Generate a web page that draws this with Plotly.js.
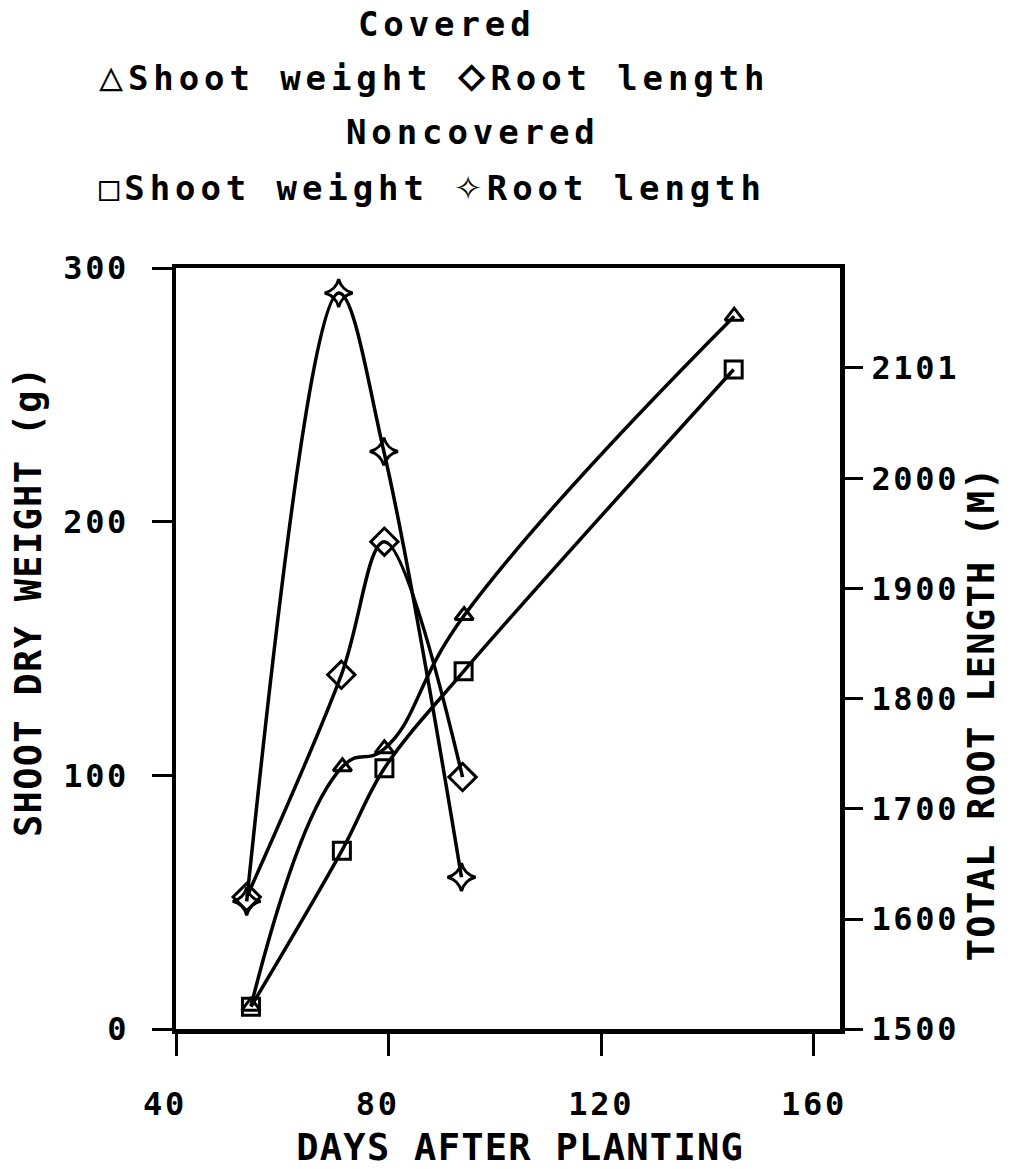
<!DOCTYPE html>
<html>
<head>
<meta charset="utf-8">
<script src="https://cdn.plot.ly/plotly-3.0.1.min.js"></script>
<style>
  html, body { margin: 0; padding: 0; background: #fff; }
  #chart { width: 1021px; height: 1169px; }
  .xtick text, .ytick text, .y2tick text { letter-spacing: 2.7px; }
  .annotation-text { letter-spacing: 4.9px; }
  g.annotation[data-index="4"] .annotation-text,
  g.annotation[data-index="5"] .annotation-text,
  g.annotation[data-index="6"] .annotation-text { letter-spacing: 1.3px; }
</style>
</head>
<body>
<div id="chart"></div>
<script>
// ---- data ----
const covShootDays = [54.1, 71.3, 79.2, 94.2, 145.0];
const covShootWeight = [9, 103.4, 110.5, 163, 281];

const nonShootDays = [54.1, 71.2, 79.2, 94.1, 144.9];
const nonShootWeight = [8.8, 70.3, 102.8, 141, 260];

const covRootDays = [53.3, 71.1, 79.2, 93.9];
const covRootLength = [1620, 1822, 1943, 1729];

const nonRootDays = [53.3, 70.6, 79.1, 93.7];
const nonRootLength = [1616, 2169, 2025, 1638];

const xTickVals = [40, 80, 120, 160];
const xTickText = ["40\u00a0", "80\u00a0", "120", "160"];
const yTickVals = [0, 100, 200, 300];
const y2TickVals = [1500, 1600, 1700, 1800, 1900, 2000, 2101];
const y2TickText = ["1500", "1600", "1700", "1800", "1900", "2000", "2101"];

const legendLines = [
  "Covered",
  "<span style=\"font-size:40px\">\u25B3</span>Shoot weight <span style=\"font-size:46px\">\u25C7</span>Root length",
  "Noncovered",
  "\u25A1Shoot weight <span style=\"font-size:46px\">\u2727</span>Root length"
];

const xTitle = "DAYS AFTER PLANTING";
const yTitle = "SHOOT DRY WEIGHT (g)";
const y2Title = "TOTAL ROOT LENGTH (M)";

// ---- layout geometry ----
const W = 1021, H = 1169;
const M = { l: 176, r: 181, t: 268, b: 140 };
const PW = W - M.l - M.r, PH = H - M.t - M.b;
const px2x = px => (px - M.l) / PW;
const py2y = py => (H - M.b - py) / PH;

const FONT = "DejaVu Sans Mono";
const black = "#000";

function lineStyle(sm) { return { color: black, width: 3.5, shape: "spline", smoothing: sm }; }
function mk(symbol, size) {
  return { symbol: symbol, size: size, color: black, line: { color: black, width: 3 } };
}

const traces = [
  { x: covShootDays, y: covShootWeight, mode: "lines+markers", name: "Covered shoot weight",
    line: lineStyle(1.3), marker: mk("triangle-up-open", 16), yaxis: "y" },
  { x: nonShootDays, y: nonShootWeight, mode: "lines+markers", name: "Noncovered shoot weight",
    line: lineStyle(1), marker: mk("square-open", 17), yaxis: "y" },
  { x: covRootDays, y: covRootLength, mode: "lines+markers", name: "Covered root length",
    line: lineStyle(1), marker: mk("diamond-open", 21), yaxis: "y2" },
  { x: nonRootDays, y: nonRootLength, mode: "lines+markers", name: "Noncovered root length",
    line: lineStyle(1), marker: mk("star-diamond-open", 20), yaxis: "y2" }
];

const tickFont = { family: FONT, size: 32, color: black, weight: "bold" };
const titleFont = { family: FONT, size: 37, color: black, weight: "bold" };
const legFont = { family: FONT, size: 34, color: black, weight: "bold" };

const legendPos = [
  { px: 357, py: 24 },
  { px: 98, py: 74 },
  { px: 345, py: 132 },
  { px: 98, py: 184 }
];

const annotations = legendLines.map((t, i) => ({
  text: t, xref: "paper", yref: "paper",
  x: px2x(legendPos[i].px), y: py2y(legendPos[i].py),
  xanchor: "left", yanchor: "middle", showarrow: false,
  font: legFont, borderpad: 0
}));

// axis titles, placed where the reference puts them
annotations.push(
  { text: yTitle, xref: "paper", yref: "paper", x: px2x(28), y: py2y(601),
    xanchor: "center", yanchor: "middle", textangle: -90, showarrow: false, font: titleFont, borderpad: 0 },
  { text: y2Title, xref: "paper", yref: "paper", x: px2x(981), y: py2y(714),
    xanchor: "center", yanchor: "middle", textangle: -90, showarrow: false, font: titleFont, borderpad: 0 },
  { text: xTitle, xref: "paper", yref: "paper", x: px2x(520), y: py2y(1147),
    xanchor: "center", yanchor: "middle", showarrow: false, font: titleFont, borderpad: 0 }
);

const layout = {
  width: W, height: H,
  margin: M,
  paper_bgcolor: "#fff", plot_bgcolor: "#fff",
  showlegend: false,
  font: { family: FONT, color: black },
  xaxis: {
    range: [40, 164.9], tickvals: xTickVals, ticktext: xTickText,
    showgrid: false, zeroline: false,
    showline: true, linewidth: 4.5, linecolor: black, mirror: true,
    ticks: "outside", ticklen: 22, tickwidth: 3, tickcolor: black,
    tickfont: tickFont, ticklabelstandoff: 21
  },
  yaxis: {
    range: [0, 300], tickvals: yTickVals,
    showgrid: false, zeroline: false,
    showline: true, linewidth: 4.5, linecolor: black, mirror: true,
    ticks: "outside", ticklen: 20, tickwidth: 3, tickcolor: black,
    tickfont: tickFont, ticklabelstandoff: 16
  },
  yaxis2: {
    overlaying: "y", side: "right",
    range: [1500, 2191.8], tickvals: y2TickVals, ticktext: y2TickText,
    showgrid: false, zeroline: false, showline: false,
    ticks: "outside", ticklen: 22, tickwidth: 3, tickcolor: black,
    tickfont: tickFont, ticklabelstandoff: 2
  },
  annotations: annotations
};

Plotly.newPlot("chart", traces, layout, { displayModeBar: false, staticPlot: true });
</script>
</body>
</html>
